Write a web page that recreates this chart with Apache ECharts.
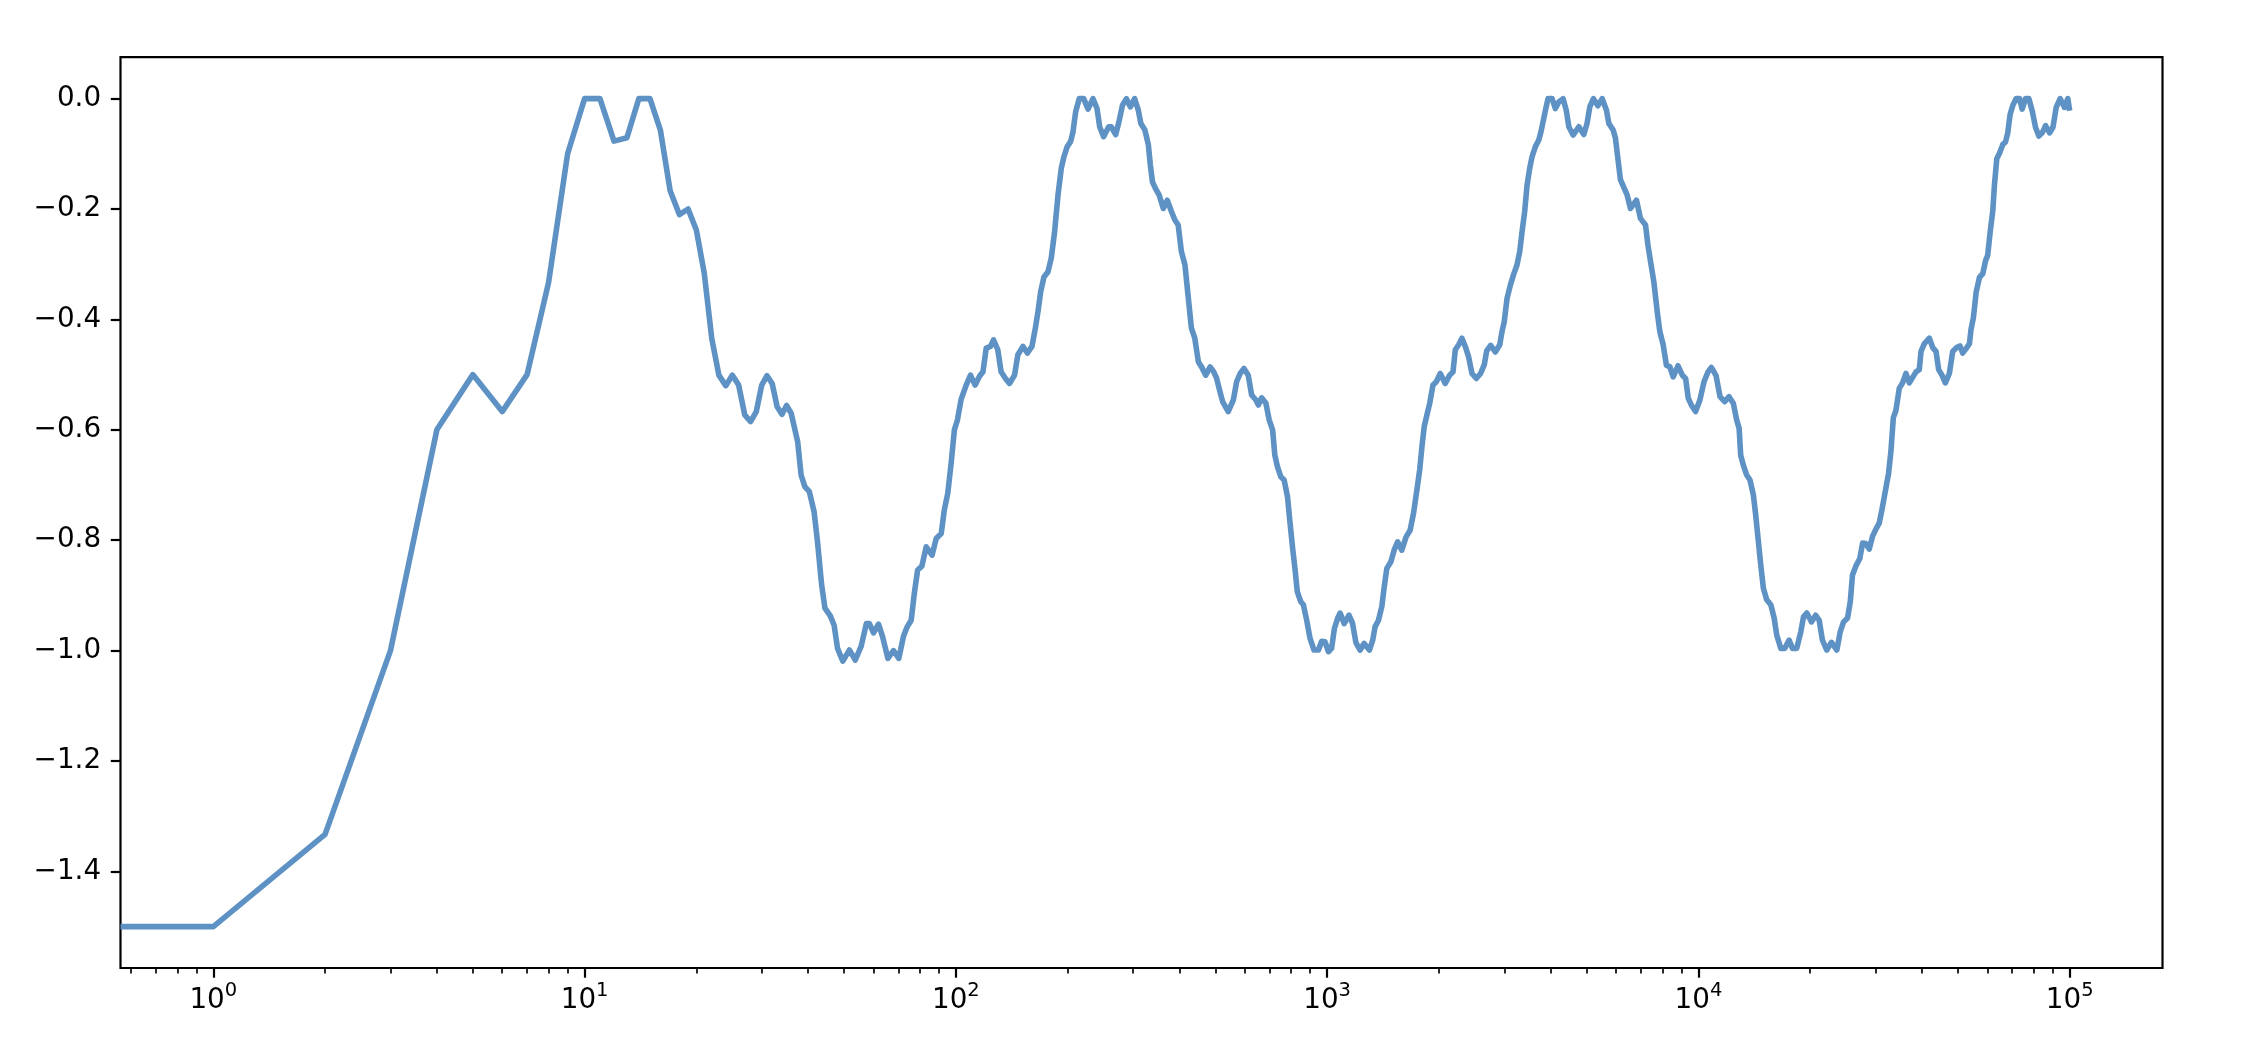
<!DOCTYPE html>
<html>
<head>
<meta charset="utf-8">
<script src="https://cdn.jsdelivr.net/npm/echarts@6/dist/echarts.min.js"></script>
<style>
html,body{margin:0;padding:0;background:#fff;}
#chart{width:2242px;height:1060px;}
</style>
</head>
<body>
<div id="chart"></div>
<script>
// ---- data ----
const xValues = [
0.56234, 1, 2, 3, 4, 5, 6, 7, 8, 9, 10, 11, 12, 13, 14, 15, 16, 17, 18, 19, 20, 21, 22,
23, 24, 25, 26, 27, 28, 29, 30, 31, 32, 33, 34, 35, 36, 37.5, 38.3, 39.2, 40.3, 41.5, 42.4, 43.5, 44.4, 45.9, 47, 48, 49.6,
51.7, 53.6, 55.6, 57.4, 58.5, 60, 61.9, 63.5, 65.6, 67.9, 70.2, 72.2, 73.8, 75.8, 77.3, 78.9, 81, 83.2, 86.3, 88.5, 91.3, 93.1, 95.1, 97.1, 99.1,
101, 103.3, 106.6, 109.5, 112.7, 115.8, 118.3, 120.7, 124, 126.3, 129.7, 132.4, 136, 139.5, 143.9, 146.9, 151.6, 155.8, 160.3, 163.7, 166.4, 169.2, 172.7, 177, 180.7, 184.5, 188.4, 192.3, 195.5, 199.5,
203.7, 206.8, 210.2, 215, 221, 227, 234, 240, 244, 250, 258, 262, 269.5, 275, 281, 288, 295, 303, 310, 315, 323, 330, 334, 338.5, 345, 353, 362, 371, 381, 389, 397,
405, 414, 422, 431, 440, 450, 459, 471, 484, 495, 503.5, 514, 523, 541.5, 559, 570.5, 583, 597, 613, 626, 643, 653, 666, 684, 698, 713, 723, 735, 750, 766, 782, 794, 807.5, 819, 831, 848.5, 863, 881, 899.5, 921.6, 947.6, 966.7, 986.7,
1008, 1028, 1046, 1068, 1084, 1111, 1145, 1170, 1196, 1227, 1258, 1300, 1327, 1346, 1375, 1404, 1425, 1448, 1485, 1515, 1548, 1589, 1632, 1673, 1709, 1745, 1775, 1800, 1826, 1857, 1889, 1928, 1968,
2017, 2080, 2138, 2183, 2214, 2261, 2307, 2355, 2405, 2455, 2522, 2590, 2650, 2690, 2756, 2838, 2917, 2958, 3000, 3052, 3115, 3181, 3247, 3302, 3350, 3404, 3455, 3513, 3565, 3638, 3716, 3767, 3832, 3873, 3936,
4036, 4119, 4207, 4320, 4406, 4477, 4597, 4764, 4913, 5012, 5099, 5215, 5359, 5508, 5654, 5738, 5894, 5979, 6068, 6166, 6297, 6430, 6563, 6811, 6980, 7204, 7311, 7430, 7586, 7745, 7873, 8037, 8200, 8380, 8550, 8810, 9050, 9237, 9392, 9570, 9826,
10093, 10351, 10617, 10837, 11160, 11434, 11769, 12093, 12416, 12676, 12870, 13000, 13213, 13490, 13772, 14060, 14265, 14478, 14720, 14962, 15276, 15668, 15996, 16256, 16670, 17080, 17550, 17920, 18400, 18870, 19190, 19590,
20160, 20700, 21150, 21580, 22170, 22830, 23600, 24100, 24600, 25220, 25650, 26000, 26550, 27210, 27690, 28250, 28850, 29440, 30060, 30690, 31190, 31980, 32520, 33000, 33500, 34040, 34750, 35480, 36230, 36990, 37760, 38550, 39350, 39770,
40610, 41880, 42760, 43650, 44370, 45290, 46240, 47410, 48410, 49600, 50640, 51500, 52600, 53700, 54230, 55040, 55980, 57150, 58350, 59330, 60140, 61040, 62080, 62720, 63630, 64700, 66050, 67150, 68110, 69100, 70300,
71740, 73280, 74470, 76040, 77620, 79250, 80910, 82600, 84330, 86100, 88300, 90150, 91970, 94240, 96840, 98860, 100000
];
const yValues = [
-1.5, -1.5, -1.333, -1.0, -0.6, -0.5, -0.567, -0.5, -0.333, -0.1, 0, 0, -0.077, -0.071, 0, 0, -0.057, -0.167, -0.21, -0.2, -0.238, -0.316, -0.434,
-0.501, -0.52, -0.501, -0.519, -0.573, -0.585, -0.567, -0.519, -0.502, -0.516, -0.558, -0.572, -0.556, -0.570, -0.622, -0.682, -0.703, -0.712, -0.748, -0.803, -0.881, -0.923, -0.937, -0.954, -0.996, -1.019,
-0.999, -1.017, -0.992, -0.951, -0.951, -0.968, -0.952, -0.975, -1.014, -1.0, -1.014, -0.975, -0.958, -0.945, -0.896, -0.854, -0.847, -0.812, -0.827, -0.797, -0.788, -0.745, -0.715, -0.661, -0.600,
-0.582, -0.545, -0.519, -0.501, -0.519, -0.503, -0.495, -0.452, -0.449, -0.437, -0.455, -0.495, -0.507, -0.516, -0.501, -0.464, -0.449, -0.461, -0.449, -0.416, -0.386, -0.350, -0.323, -0.314, -0.289, -0.241, -0.175, -0.126, -0.105, -0.087,
-0.078, -0.060, -0.024, 0, 0, -0.019, 0, -0.018, -0.051, -0.069, -0.051, -0.051, -0.065, -0.042, -0.012, 0, -0.015, 0, -0.021, -0.045, -0.057, -0.084, -0.120, -0.151, -0.163, -0.175, -0.199, -0.184, -0.205, -0.220, -0.229,
-0.277, -0.301, -0.356, -0.416, -0.434, -0.477, -0.486, -0.501, -0.486, -0.495, -0.506, -0.530, -0.549, -0.567, -0.546, -0.513, -0.498, -0.489, -0.501, -0.537, -0.546, -0.555, -0.542, -0.552, -0.582, -0.600, -0.646, -0.667, -0.685, -0.691, -0.721, -0.767, -0.815, -0.851, -0.893, -0.911, -0.917, -0.945, -0.978, -0.999, -0.999, -0.983, -0.984,
-1.002, -0.996, -0.960, -0.941, -0.932, -0.951, -0.936, -0.950, -0.986, -0.999, -0.987, -0.999, -0.981, -0.957, -0.945, -0.920, -0.884, -0.851, -0.839, -0.818, -0.803, -0.818, -0.794, -0.782, -0.751, -0.709, -0.673, -0.631, -0.594, -0.573, -0.552, -0.519, -0.513,
-0.498, -0.516, -0.501, -0.495, -0.455, -0.446, -0.434, -0.449, -0.468, -0.498, -0.507, -0.498, -0.482, -0.457, -0.447, -0.459, -0.446, -0.422, -0.404, -0.362, -0.338, -0.318, -0.301, -0.277, -0.241, -0.205, -0.157, -0.126, -0.105, -0.087, -0.075, -0.060, -0.036, -0.021, 0,
0, -0.018, -0.006, 0, -0.021, -0.051, -0.066, -0.051, -0.065, -0.045, -0.015, 0, -0.013, 0, -0.021, -0.045, -0.057, -0.072, -0.108, -0.147, -0.161, -0.175, -0.199, -0.184, -0.217, -0.229, -0.265, -0.295, -0.332, -0.386, -0.422, -0.446, -0.483, -0.486, -0.504, -0.484, -0.501, -0.507, -0.543, -0.555, -0.567,
-0.546, -0.513, -0.495, -0.487, -0.502, -0.540, -0.549, -0.540, -0.552, -0.582, -0.597, -0.646, -0.664, -0.682, -0.691, -0.718, -0.754, -0.797, -0.845, -0.887, -0.908, -0.917, -0.941, -0.972, -0.996, -0.996, -0.981, -0.996, -0.996, -0.966, -0.939, -0.932,
-0.948, -0.936, -0.945, -0.981, -0.999, -0.985, -0.999, -0.966, -0.948, -0.941, -0.911, -0.863, -0.847, -0.833, -0.805, -0.806, -0.816, -0.793, -0.780, -0.769, -0.746, -0.706, -0.679, -0.639, -0.578, -0.565, -0.525, -0.515, -0.498, -0.515, -0.505, -0.495, -0.491, -0.458,
-0.444, -0.434, -0.451, -0.458, -0.491, -0.501, -0.515, -0.498, -0.458, -0.451, -0.448, -0.461, -0.453, -0.444, -0.418, -0.397, -0.351, -0.324, -0.317, -0.294, -0.284, -0.243, -0.203, -0.156, -0.109, -0.099, -0.083, -0.079, -0.062, -0.029, -0.012,
0, 0, -0.019, 0, 0, -0.022, -0.052, -0.068, -0.062, -0.049, -0.062, -0.052, -0.016, 0, -0.016, 0, -0.022
];
const xMajorTicks = [1, 10, 100, 1000, 10000, 100000];
const yTicks = [-1.4, -1.2, -1.0, -0.8, -0.6, -0.4, -0.2, 0.0];

// ---- axis limits (log x with 0.25-decade margins) ----
const xMin = Math.pow(10, -0.25), xMax = Math.pow(10, 5.25);
const yMin = -1.575, yMax = 0.075;

const xMinorTicks = [];
for (let k = -1; k <= 5; k++) {
  for (let m = 2; m <= 9; m++) {
    const v = m * Math.pow(10, k);
    if (v > xMin && v < xMax) xMinorTicks.push(v);
  }
}

const seriesData = xValues.map((x, i) => [x, yValues[i]]);
const FONT = 'DejaVu Sans';
const FS = 27.8;

const chart = echarts.init(document.getElementById('chart'), null, {renderer: 'canvas', width: 2242, height: 1060});
chart.setOption({
  animation: false,
  backgroundColor: '#ffffff',
  grid: {
    left: 120.5, top: 57.2, width: 2042, height: 910.8,
    show: true, borderColor: '#000', borderWidth: 2.2, backgroundColor: 'transparent',
    containLabel: false, outerBoundsMode: 'none'
  },
  xAxis: [{
    type: 'log', logBase: 10, min: xMin, max: xMax, position: 'bottom',
    axisLine: {show: false, onZero: false},
    splitLine: {show: false},
    axisTick: {show: true, inside: false, length: 9.7, lineStyle: {color: '#000', width: 2.2}, customValues: xMajorTicks},
    axisLabel: {
      show: true, margin: 17, color: '#000', customValues: xMajorTicks,
      formatter: v => '{b|10}{s|' + Math.round(Math.log10(v)) + '}',
      rich: {
        b: {fontFamily: FONT, fontSize: FS, lineHeight: 32, color: '#000'},
        s: {fontFamily: FONT, fontSize: 19.5, lineHeight: 32, verticalAlign: 'top', color: '#000', padding: [-4, 0, 0, 0]}
      }
    }
  }, {
    type: 'log', logBase: 10, min: xMin, max: xMax, position: 'bottom',
    axisLine: {show: false, onZero: false},
    splitLine: {show: false},
    axisLabel: {show: false},
    axisTick: {show: true, inside: false, length: 5.6, lineStyle: {color: '#000', width: 1.67}, customValues: xMinorTicks}
  }],
  yAxis: {
    type: 'value', min: yMin, max: yMax, position: 'left',
    axisLine: {show: false, onZero: false},
    splitLine: {show: false},
    axisTick: {show: true, inside: false, length: 9.7, lineStyle: {color: '#000', width: 2.2}, customValues: yTicks},
    axisLabel: {
      show: true, margin: 19.4, color: '#000', fontFamily: FONT, fontSize: FS, customValues: yTicks,
      formatter: v => (v < -1e-9 ? '\u2212' : '') + Math.abs(v).toFixed(1)
    }
  },
  series: [{
    type: 'line',
    xAxisIndex: 0, yAxisIndex: 0,
    data: seriesData,
    showSymbol: false, symbol: 'none',
    clip: true,
    lineStyle: {color: '#5e92c4', width: 5.6, join: 'round', cap: 'butt'},
    silent: true
  }]
});
</script>
</body>
</html>
